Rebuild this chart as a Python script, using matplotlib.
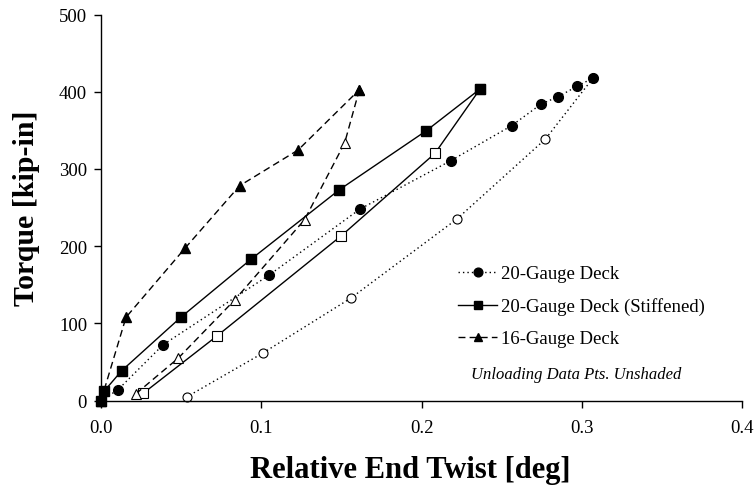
import numpy as np
import matplotlib
matplotlib.use('Agg')
import matplotlib.pyplot as plt

plt.rcParams['font.family'] = ['Liberation Serif', 'DejaVu Serif']
plt.rcParams['font.size'] = 13.5

# 20-Gauge Deck
g20_load_x = [0.0, 0.0104, 0.0388, 0.105, 0.1616, 0.2182, 0.2562, 0.2746, 0.2852, 0.297, 0.307]
g20_load_y = [0, 13.6, 72.3, 162.6, 248, 310.6, 356, 384, 393.5, 407, 417.7]
g20_unload_x = [0.307, 0.2773, 0.222, 0.156, 0.101, 0.0537]
g20_unload_y = [417.7, 338.7, 235, 132.8, 61.5, 4.9]

# 20-Gauge Deck (Stiffened)
g20s_load_x = [0.0, 0.0019, 0.0129, 0.0498, 0.0938, 0.1487, 0.203, 0.2365]
g20s_load_y = [0, 12, 38.6, 107.8, 183.3, 273, 349.5, 403.5]
g20s_unload_x = [0.2365, 0.2083, 0.150, 0.0726, 0.0263]
g20s_unload_y = [403.5, 320, 213.5, 84, 9.3]

# 16-Gauge Deck
g16_load_x = [0.0, 0.0156, 0.0523, 0.0865, 0.123, 0.1612]
g16_load_y = [0, 107.8, 197, 278.2, 324.5, 402.6]
g16_unload_x = [0.1612, 0.152, 0.127, 0.0834, 0.0481, 0.0216]
g16_unload_y = [402.6, 333.5, 234.2, 130.2, 54.7, 8.4]

dotted = (0, (1, 2.2))
dashed = (0, (5, 3))

fig = plt.figure(figsize=(7.56, 4.89), dpi=100)
ax = fig.add_axes([0.1336, 0.1789, 0.848, 0.7894])

lw = 1.0
# unloading (open markers)
ax.plot(g20_unload_x, g20_unload_y, color='k', lw=lw, ls=dotted, marker='o', ms=6.5,
        mfc='white', mec='k', mew=0.8)
ax.plot(g20s_unload_x, g20s_unload_y, color='k', lw=lw, ls='-', marker='s', ms=6.5,
        mfc='white', mec='k', mew=0.8)
ax.plot(g16_unload_x, g16_unload_y, color='k', lw=lw, ls=dashed, marker='^', ms=6.5,
        mfc='white', mec='k', mew=0.8)
# loading (filled markers)
h1, = ax.plot(g20_load_x, g20_load_y, color='k', lw=lw, ls=dotted, marker='o', ms=7,
              mfc='k', mec='k', label='20-Gauge Deck')
h2, = ax.plot(g20s_load_x, g20s_load_y, color='k', lw=lw, ls='-', marker='s', ms=7,
              mfc='k', mec='k', label='20-Gauge Deck (Stiffened)')
h3, = ax.plot(g16_load_x, g16_load_y, color='k', lw=lw, ls=dashed, marker='^', ms=7,
              mfc='k', mec='k', label='16-Gauge Deck')

ax.set_xlim(0, 0.4)
ax.set_ylim(0, 500)
ax.set_xticks([0.0, 0.1, 0.2, 0.3, 0.4])
ax.set_xticklabels(['0.0', '0.1', '0.2', '0.3', '0.4'])
ax.set_yticks([0, 100, 200, 300, 400, 500])
ax.spines['top'].set_visible(False)
ax.spines['right'].set_visible(False)
ax.tick_params(direction='out', length=5, width=1, labelsize=13.5)
ax.tick_params(axis='x', pad=8)
ax.tick_params(axis='y', pad=5)
for sp in ax.spines.values():
    sp.set_linewidth(1)
for l in ax.lines:
    l.set_clip_on(False)

ax.set_xlabel('Relative End Twist [deg]', fontsize=22, fontweight='bold')
ax.set_ylabel('Torque [kip-in]', fontsize=21.5, fontweight='bold')
ax.xaxis.set_label_coords(0.482, -0.14)
ax.yaxis.set_label_coords(-0.095, 0.5)

leg = ax.legend(handles=[h1, h2, h3], loc='center left', bbox_to_anchor=(0.557, 0.244),
                frameon=False, borderpad=0, borderaxespad=0, handlelength=2.1,
                handletextpad=0.2, labelspacing=0.8, fontsize=13.5, markerscale=0.9)
ax.text(0.741, 0.069, 'Unloading Data Pts. Unshaded', transform=ax.transAxes,
        ha='center', va='center', fontsize=12, style='italic')

fig.savefig('out.png', dpi=100)
